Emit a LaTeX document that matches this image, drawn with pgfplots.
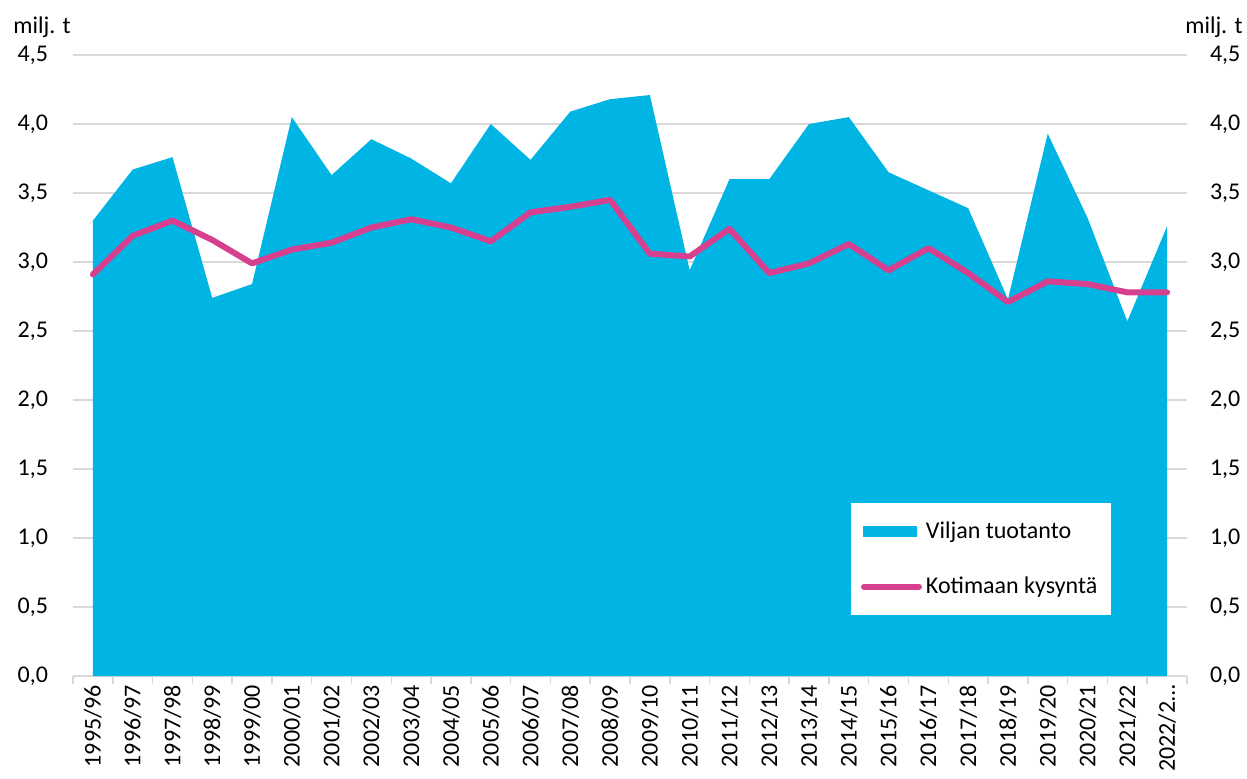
\documentclass[border=0pt]{standalone}
\usepackage{pgfplots}
\pgfplotsset{compat=1.18}
\usepackage{fontspec}
\setmainfont{Carlito}
\definecolor{areac}{HTML}{00B4E4}
\definecolor{linec}{HTML}{D6408F}
\definecolor{gridc}{HTML}{D9D9D9}
\begin{document}
\begin{tikzpicture}
\useasboundingbox (-36.5pt,-51pt) rectangle (587pt,338pt);
\pgfplotsset{
  common/.style={
    width=557pt, height=310.5pt, scale only axis,
    xmin=-0.5, xmax=27.5, ymin=0, ymax=4.5,
    ytick={0,0.5,...,4.5},
    major tick length=0pt,
    clip=false,
    /pgf/number format/.cd, fixed, fixed zerofill, precision=1, use comma, assume math mode=true,
    /pgfplots/.cd,
    tick label style={font=\fontsize{12}{14}\selectfont, text=black},
  }
}
\begin{axis}[common,
  axis x line*=bottom, axis y line*=left,
  x axis line style={draw=gridc, line width=0.75pt},
  y axis line style={draw=none},
  ymajorgrids, grid style={draw=gridc, line width=0.75pt},
  xtick={0,...,27},
  xticklabels={1995/96,1996/97,1997/98,1998/99,1999/00,2000/01,2001/02,2002/03,2003/04,2004/05,2005/06,2006/07,2007/08,2008/09,2009/10,2010/11,2011/12,2012/13,2013/14,2014/15,2015/16,2016/17,2017/18,2018/19,2019/20,2020/21,2021/22,2022/2…},
  xticklabel style={rotate=90, anchor=east, xshift=-1pt},
  minor xtick={-0.5,0.5,...,27.5},
  minor tick length=4pt,
  tick align=outside,
  minor tick style={draw=gridc, line width=0.75pt},
  yticklabel style={anchor=east, xshift=-9pt},
  legend style={at={(rel axis cs:0.698,0.279)}, anchor=north west, draw=none, fill=white,
    font=\fontsize{12}{14}\selectfont, inner xsep=5pt, inner ysep=7.5pt, row sep=13.5pt,
    nodes={inner xsep=2pt}},
  legend cell align=left,
]
\addplot[fill=areac, draw=none, area legend,
  legend image code/.code={\fill[areac] (0pt,-2.75pt) rectangle (27pt,2.75pt);}]
 coordinates {(0,3.30)(1,3.67)(2,3.76)(3,2.74)(4,2.84)(5,4.05)(6,3.63)(7,3.89)(8,3.75)(9,3.57)(10,4.00)(11,3.74)(12,4.09)(13,4.18)(14,4.21)(15,2.94)(16,3.60)(17,3.60)(18,4.00)(19,4.05)(20,3.65)(21,3.52)(22,3.39)(23,2.73)(24,3.93)(25,3.32)(26,2.57)(27,3.26)} \closedcycle;
\addlegendentry{Viljan tuotanto}
\addplot[draw=linec, line width=3pt, line join=round, line cap=round, mark=none,
  legend image code/.code={\draw[linec, line width=3pt, line cap=round] (0.5pt,0pt) -- (28pt,0pt);}]
 coordinates {(0,2.91)(1,3.19)(2,3.30)(3,3.16)(4,2.99)(5,3.09)(6,3.14)(7,3.25)(8,3.31)(9,3.25)(10,3.15)(11,3.36)(12,3.40)(13,3.45)(14,3.06)(15,3.04)(16,3.24)(17,2.92)(18,2.99)(19,3.13)(20,2.94)(21,3.10)(22,2.92)(23,2.71)(24,2.86)(25,2.84)(26,2.78)(27,2.78)};
\addlegendentry{Kotimaan kysyntä}
\node[anchor=base west, font=\fontsize{12}{14}\selectfont, inner sep=0pt] at (rel axis cs:0,1) [xshift=-30pt, yshift=11pt] {milj. t};
\end{axis}
\begin{axis}[common,
  axis x line=none, axis y line*=right,
  y axis line style={draw=none},
  xtick=\empty,
  yticklabel style={anchor=west, xshift=8pt},
]
\addplot[draw=none] coordinates {(0,0)};
\node[anchor=base east, font=\fontsize{12}{14}\selectfont, inner sep=0pt] at (rel axis cs:1,1) [xshift=28pt, yshift=11pt] {milj. t};
\end{axis}
\end{tikzpicture}
\end{document}
